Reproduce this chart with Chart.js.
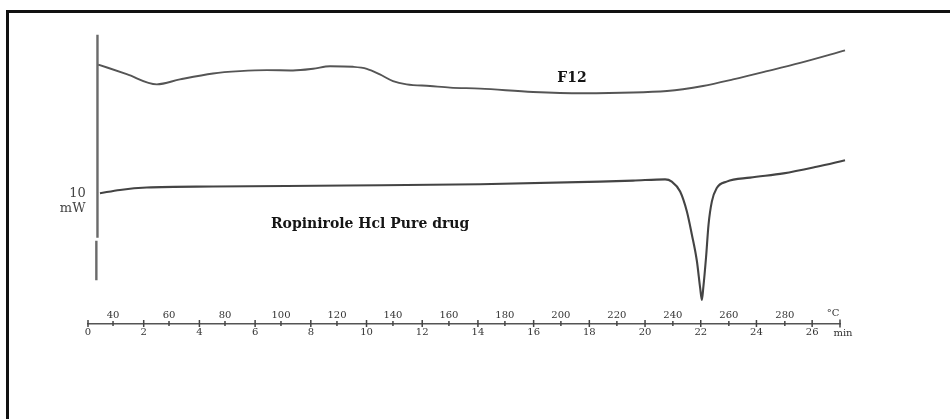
<!DOCTYPE html>
<html>
<head>
<meta charset="utf-8">
<script src="https://cdn.jsdelivr.net/npm/chart.js@4.4.1/dist/chart.umd.min.js"></script>
<style>
  html, body { margin: 0; padding: 0; background: #fff; }
  #wrap { position: relative; width: 950px; height: 419px; overflow: hidden; }
  #frame { position: absolute; left: 6px; top: 10px; right: -10px; bottom: -10px;
           border-top: 3px solid #111; border-left: 3px solid #111; }
  #c { position: absolute; left: 0; top: 0; }
</style>
</head>
<body>
<div id="wrap">
  <div id="frame"></div>
  <canvas id="c" width="950" height="419"></canvas>
</div>
<script>
// DSC scan: time in minutes, heat flow in mW (arbitrary offset per trace)
const f12Time = [0.37, 1.39, 2.47, 3.30, 4.49, 5.46, 6.42, 7.36, 8.08, 8.69, 9.52, 10.01, 10.48,
                 10.95, 11.44, 12.28, 13.00, 14.08, 15.98, 17.77, 19.57, 20.79, 21.36, 22.08,
                 23.16, 24.38, 25.57, 27.18];
const f12Flow = [25.50, 24.53, 23.50, 24.00, 24.60, 24.83, 24.93, 24.90, 25.07, 25.33, 25.27, 25.07, 24.50,
                 23.83, 23.50, 23.33, 23.17, 23.07, 22.73, 22.60, 22.67, 22.83, 23.00, 23.33,
                 24.00, 24.83, 25.67, 26.93];

const drugTime = [0.43, 1.15, 2.11, 4.49, 9.29, 14.08, 18.38, 19.57, 20.72, 20.96, 21.26, 21.50,
                  21.68, 21.86, 21.98, 22.04, 22.09, 22.19, 22.28, 22.40, 22.57, 22.93, 23.77,
                  24.97, 26.16, 27.18];
const drugFlow = [12.50, 12.83, 13.07, 13.17, 13.27, 13.40, 13.67, 13.77, 13.90, 13.67, 12.67, 10.67,
                  8.33, 5.67, 2.90, 1.70, 2.90, 6.00, 9.33, 11.67, 13.00, 13.67, 14.07,
                  14.50, 15.17, 15.83];

// ordinate bar of the recorder (two strokes with a small break)
const barTime = [0.34, 0.34, 0.34, 0.30, 0.30];
const barFlow = [28.5, 8.0, null, 7.7, 3.7];

// axis ticks
const minuteTicks = [0, 2, 4, 6, 8, 10, 12, 14, 16, 18, 20, 22, 24, 26];
const tempTicks = [40, 60, 80, 100, 120, 140, 160, 180, 200, 220, 240, 260, 280];
const tempAtStart = 31.06;   // °C at t = 0
const heatingRate = 9.95;    // °C per minute
const timeEnd = 27.0;

const toPoints = (xs, ys) => xs.map((x, i) => ({ x: x, y: ys[i] }));

const serif = '"DejaVu Serif", "Liberation Serif", serif';

// captions written on the thermogram, anchored in data coordinates
const captions = [
  { text: 'F12', t: 17.38, q: 24.1, font: 'bold 14px ' + serif, color: '#151515' },
  { text: 'Ropinirole Hcl Pure drug', t: 10.13, q: 9.4, font: 'bold 14px ' + serif, color: '#151515' },
  { text: '10', t: -0.38, q: 12.5, font: '13px ' + serif, color: '#444' },
  { text: 'mW', t: -0.55, q: 10.9, font: '13px ' + serif, color: '#444' }
];

const decor = {
  id: 'decor',
  afterDraw(chart) {
    const { ctx, scales } = chart;
    const x = scales.x, xT = scales.xT, y = scales.y;
    const lineY = x.top;
    ctx.save();
    ctx.strokeStyle = '#444';
    ctx.lineWidth = 1.5;
    const mark = (px, h) => {
      ctx.beginPath();
      ctx.moveTo(px, lineY - h);
      ctx.lineTo(px, lineY + h);
      ctx.stroke();
    };
    minuteTicks.forEach(v => mark(x.getPixelForValue(v), 3.5));
    tempTicks.forEach(v => mark(xT.getPixelForValue(v), 2.5));
    mark(x.right, 4);

    ctx.fillStyle = '#333';
    ctx.font = '10px ' + serif;
    ctx.textAlign = 'center';
    ctx.textBaseline = 'middle';
    ctx.fillText('°C', x.right - 7, lineY - 10);
    ctx.fillText('min', x.right + 3, lineY + 10);

    captions.forEach(c => {
      ctx.font = c.font;
      ctx.fillStyle = c.color;
      ctx.fillText(c.text, x.getPixelForValue(c.t), y.getPixelForValue(c.q));
    });
    ctx.restore();
  }
};

const tickFont = { family: serif, size: 10 };

const lineSet = (label, data, color, width, extra) => Object.assign({
  label: label, data: data, xAxisID: 'x', yAxisID: 'y', borderColor: color, borderWidth: width,
  pointRadius: 0, clip: false
}, extra);

new Chart(document.getElementById('c'), {
  type: 'line',
  data: {
    datasets: [
      lineSet('F12', toPoints(f12Time, f12Flow), '#555', 1.9, { cubicInterpolationMode: 'monotone' }),
      lineSet('Ropinirole Hcl Pure drug', toPoints(drugTime, drugFlow), '#444', 2.1,
              { cubicInterpolationMode: 'monotone' }),
      lineSet('ordinate', toPoints(barTime, barFlow), '#6a6a6a', 2.4, { tension: 0, spanGaps: false })
    ]
  },
  options: {
    responsive: false,
    animation: false,
    devicePixelRatio: 1,
    layout: { padding: { left: 88, right: 110, top: 20, bottom: 77.5 } },
    plugins: { legend: { display: false }, tooltip: { enabled: false } },
    scales: {
      x: {
        type: 'linear', position: 'bottom', weight: 1, min: 0, max: timeEnd,
        afterBuildTicks: s => { s.ticks = minuteTicks.map(v => ({ value: v })); },
        border: { display: true, color: '#555', width: 1.5 },
        grid: { display: false, drawTicks: false },
        ticks: { font: tickFont, color: '#333', padding: 3, maxRotation: 0, autoSkip: false }
      },
      xT: {
        type: 'linear', position: 'bottom', weight: 0,
        min: tempAtStart, max: tempAtStart + heatingRate * timeEnd,
        afterBuildTicks: s => { s.ticks = tempTicks.map(v => ({ value: v })); },
        border: { display: false }, grid: { display: false, drawTicks: false },
        ticks: { font: { family: serif, size: 10, lineHeight: 1.7 }, color: '#333', padding: 0,
                 maxRotation: 0, autoSkip: false }
      },
      y: { display: false, min: 1.05, max: 30 }
    }
  },
  plugins: [decor]
});
</script>
</body>
</html>
